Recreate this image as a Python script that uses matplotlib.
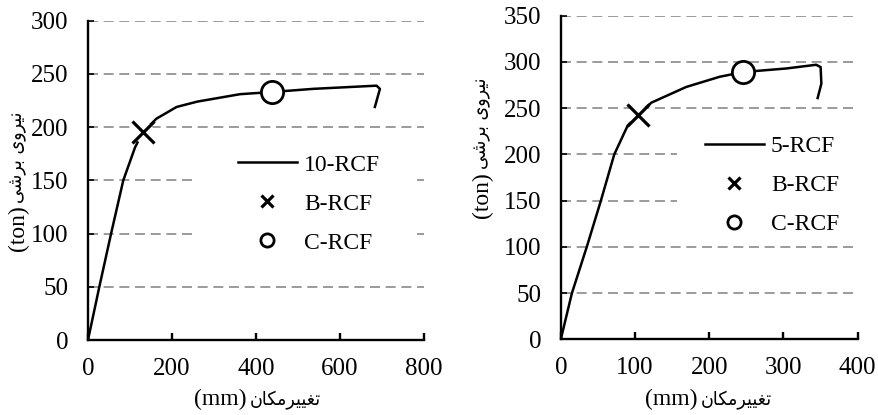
import matplotlib.pyplot as plt
from matplotlib.lines import Line2D
from matplotlib.patches import Rectangle

# 10-RCF frame: displacement (mm) vs shear force (ton)
disp_10 = [0, 27, 55, 84, 112, 130, 163, 211, 260, 362, 437, 536, 687, 695, 683]
force_10 = [0, 50, 100, 150, 181, 195, 208, 219, 224, 231, 233, 236, 239, 236, 219]
b_10 = (130, 195)
c_10 = (437, 233)

# 5-RCF frame
disp_5 = [0, 15, 35, 54, 72, 90, 104, 122, 169, 214, 245, 259, 304, 344, 350, 351, 346]
force_5 = [0, 50, 100, 150, 200, 231, 243, 256, 273, 284, 289, 290, 293, 297, 294.5, 276.5, 261]
b_5 = (104, 243)
c_5 = (245, 289)

xticks_10 = [0, 200, 400, 600, 800]
yticks_10 = [0, 50, 100, 150, 200, 250, 300]
xticks_5 = [0, 100, 200, 300, 400]
yticks_5 = [0, 50, 100, 150, 200, 250, 300, 350]

# persian words in visual order, using presentation forms
fa_disp = "\uFEE5\uFE8E\uFB91\uFEE3\uFEAE\uFBFF\uFBFF\uFED0\uFE97"
fa_force = "\uFBFD\uFEB7\uFEAE\uFE91 \uFBFC\uFEED\uFEAE\uFBFF\uFEE7"

fam = ['Liberation Serif', 'DejaVu Sans']
plt.rcParams['font.family'] = fam
W, H = 879, 415

fig = plt.figure(figsize=(W / 100, H / 100), dpi=100)
ax1 = fig.add_axes([0.1001, 0.1807, 0.3823, 0.7693])
ax2 = fig.add_axes([0.638, 0.1824, 0.3378, 0.7796])


def px(x, y):
    return x / W, 1 - y / H


def draw(ax, xs, ys, b, c, name, xt, yt, box, leg_anchor):
    ax.set_xlim(xt[0], xt[-1])
    ax.set_ylim(yt[0], yt[-1])
    ax.set_xticks(xt)
    ax.set_yticks(yt)
    ax.set_axisbelow(True)
    ax.yaxis.grid(True, color='#8a8a8a', linestyle=(0, (6, 3.4)), linewidth=1.2)
    for s in ['top', 'right']:
        ax.spines[s].set_visible(False)
    for s in ['left', 'bottom']:
        ax.spines[s].set_linewidth(1.7)
    ax.tick_params(axis='x', direction='in', length=5, width=1.7, pad=13, labelsize=18)
    ax.tick_params(axis='y', direction='in', length=4, width=1.2, pad=14, labelsize=18)

    # white area behind the legend
    ax.add_patch(Rectangle((box[0], box[1]), box[2], box[3], transform=ax.transAxes,
                           facecolor='white', edgecolor='none', zorder=1))

    ax.plot(xs, ys, color='black', linewidth=1.8, zorder=2)
    ax.plot(b[0], b[1], marker='o', markersize=15, color='white', markeredgewidth=0, zorder=3)
    ax.plot(b[0], b[1], marker='x', markersize=16, color='black', markeredgewidth=2.3, zorder=4)
    ax.plot(c[0], c[1], marker='o', markersize=16, markerfacecolor='white',
            markeredgecolor='black', markeredgewidth=2.0, zorder=4)

    handles = [
        Line2D([], [], color='black', linewidth=1.8),
        Line2D([], [], color='black', linestyle='none', marker='x', markersize=9, markeredgewidth=2.3),
        Line2D([], [], color='black', linestyle='none', marker='o', markersize=9.5,
               markerfacecolor='white', markeredgewidth=2.0),
    ]
    ax.legend(handles, [name, 'B-RCF', 'C-RCF'], loc='upper left', bbox_to_anchor=leg_anchor,
              frameon=False, fontsize=17, borderpad=0, handlelength=2.5,
              handletextpad=0.3, labelspacing=0.74, borderaxespad=0)


draw(ax1, disp_10, force_10, b_10, c_10, '10-RCF', xticks_10, yticks_10,
     (0.3125, 0.172, 0.655, 0.486), (0.446, 0.582))
draw(ax2, disp_5, force_5, b_5, c_5, '5-RCF', xticks_5, yticks_5,
     (0.39, 0.29, 0.607, 0.41), (0.485, 0.63))

# axis titles: latin unit and persian word set side by side
for xr, xl in [(247, 250), (698, 701)]:
    fig.text(*px(xr, 405), "(mm)", ha='right', va='baseline', fontsize=17,
             family='Liberation Serif')
    fig.text(*px(xl, 405), fa_disp, ha='left', va='baseline', fontsize=14,
             family='DejaVu Sans', stretch='condensed')

for xc, yb, yt in [(18, 251, 203), (482, 218, 169)]:
    fig.text(*px(xc, yb), "(ton)", ha='center', va='bottom', rotation=90, fontsize=17,
             family='Liberation Serif')
    fig.text(*px(xc, yt), fa_force, ha='center', va='bottom', rotation=90, fontsize=14,
             family='DejaVu Sans', stretch='condensed')

fig.savefig('out.png', dpi=100)
